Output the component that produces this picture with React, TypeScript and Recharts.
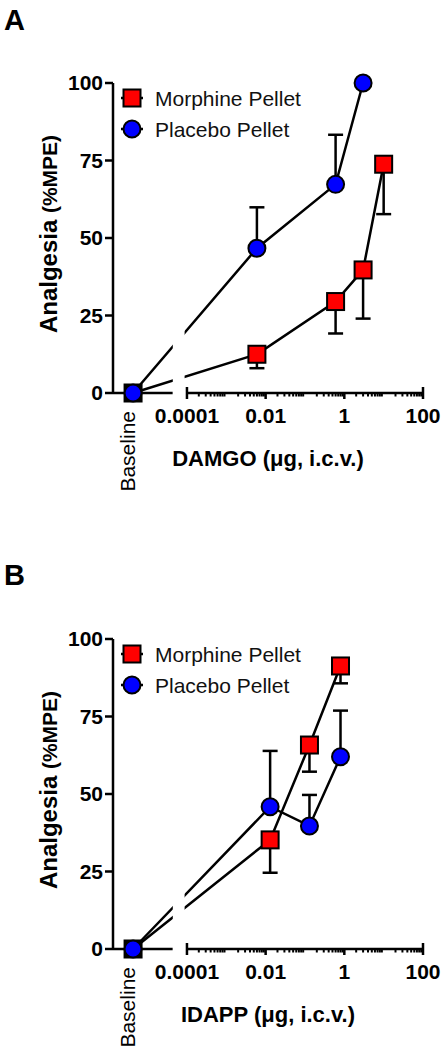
import React from 'react';
import {
  LineChart,
  Line,
  XAxis,
  YAxis,
  ErrorBar,
  ReferenceLine,
  ReferenceArea,
  Legend,
} from 'recharts';

const FONT = '"Liberation Sans", Arial, Helvetica, sans-serif';

// x axis is log10(dose); baseline sits on its own short segment left of the break
const X_MIN = -5.88;
const X_MAX = 2;
const BASELINE_POS = -5.37;
const BREAK_FROM = -4.36;
const BREAK_TO = -4.06;

const yTicks = [0, 25, 50, 75, 100];
const majorDoses = [0.0001, 0.01, 1, 100];
const majorLabels = ['0.0001', '0.01', '1', '100'];
const legendNames = ['Morphine Pellet', 'Placebo Pellet'];

// Panel A - DAMGO
const damgoMorphineDose = [0.006, 0.6, 3, 10];
const damgoMorphineMPE = [12.5, 29.5, 39.7, 73.8];
const damgoMorphineSEM = [4.5, 10.3, 15.7, 16.1];
const damgoPlaceboDose = [0.006, 0.6, 3];
const damgoPlaceboMPE = [46.7, 67.3, 100];
const damgoPlaceboSEM = [13.2, 16, 0];

// Panel B - IDAPP
const idappMorphineDose = [0.013, 0.13, 0.8];
const idappMorphineMPE = [35.2, 65.8, 91.3];
const idappMorphineSEM = [10.6, 8.6, 5.6];
const idappPlaceboDose = [0.013, 0.13, 0.8];
const idappPlaceboMPE = [45.9, 39.7, 62];
const idappPlaceboSEM = [18, 10, 14.9];

type Row = { x: number; y: number; err: number[]; base?: boolean };

const buildRows = (doses: number[], mpe: number[], sem: number[], dir: 'up' | 'down'): Row[] => [
  { x: BASELINE_POS, y: 0, err: [0, 0], base: true },
  ...doses.map((d, i) => ({
    x: Math.log10(d),
    y: mpe[i],
    err: dir === 'up' ? [0, sem[i]] : [sem[i], 0],
  })),
];

const majorPos = majorDoses.map((d) => Math.log10(d));
const minorPos: number[] = [];
for (let e = -4; e < 2; e++) {
  for (let k = 2; k <= 9; k++) minorPos.push(e + Math.log10(k));
}
const xTickValues = [BASELINE_POS, ...majorPos, ...minorPos];

const XTick = (props: any) => {
  const { x, y, payload } = props;
  const v = payload.value;
  if (Math.abs(v - BASELINE_POS) < 1e-6) {
    return (
      <text
        x={x}
        y={y + 18}
        dy={2}
        transform={`rotate(-90 ${x} ${y + 18})`}
        textAnchor="end"
        fontSize={21}
        fontFamily={FONT}
        fill="#000"
      >
        Baseline
      </text>
    );
  }
  const mi = majorPos.findIndex((m) => Math.abs(m - v) < 1e-6);
  if (mi >= 0) {
    const isEnd = mi === 0 || mi === majorPos.length - 1;
    return (
      <g>
        <line x1={x} x2={x} y1={isEnd ? y - 6 : y} y2={y + 6} stroke="#000" strokeWidth={2.5} />
        <text x={x} y={y + 30} textAnchor="middle" fontSize={21} fontWeight={700} fontFamily={FONT} fill="#000">
          {majorLabels[mi]}
        </text>
      </g>
    );
  }
  return <line x1={x} x2={x} y1={y} y2={y + 3.5} stroke="#000" strokeWidth={2} />;
};

const YTitle = (props: any) => {
  const vb = props.viewBox || { x: 0, y: 83, width: 113, height: 310 };
  const cx = vb.x + 57;
  const cy = vb.y + vb.height / 2 - 4;
  return (
    <text x={cx} y={cy} transform={`rotate(-90 ${cx} ${cy})`} textAnchor="middle" fontFamily={FONT} fontWeight={700} fill="#000">
      <tspan fontSize={24}>Analgesia </tspan>
      <tspan fontSize={21}>(%MPE)</tspan>
    </text>
  );
};

const XTitle = (props: any) => {
  const vb = props.viewBox || { x: 113, y: 393, width: 310, height: 100 };
  return (
    <text x={vb.x + vb.width / 2} y={vb.y + 73} textAnchor="middle" fontSize={22} fontWeight={700} fontFamily={FONT} fill="#000">
      {props.text}
    </text>
  );
};

const SquareDot = (props: any) => {
  const { cx, cy, payload } = props;
  if (cx == null || cy == null) return null;
  const s = 17;
  return (
    <rect
      x={cx - s / 2}
      y={cy - s / 2}
      width={s}
      height={s}
      fill={payload && payload.base ? '#000' : '#ff0000'}
      stroke="#000"
      strokeWidth={2}
    />
  );
};

const LegendContent = () => (
  <svg width={210} height={64} style={{ display: 'block', overflow: 'visible' }}>
    {legendNames.map((name, i) => {
      const cy = 16 + i * 31;
      return (
        <g key={name}>
          <line x1={3} x2={25} y1={cy} y2={cy} stroke="#000" strokeWidth={2.5} />
          {i === 0 ? (
            <rect x={14 - 8.5} y={cy - 8.5} width={17} height={17} fill="#ff0000" stroke="#000" strokeWidth={2} />
          ) : (
            <circle cx={14} cy={cy} r={8.5} fill="#0000ff" stroke="#000" strokeWidth={2} />
          )}
          <text x={37} y={cy + 7.5} fontSize={21} fontFamily={FONT} fill="#111">
            {name}
          </text>
        </g>
      );
    })}
  </svg>
);

const Panel = ({ morphine, placebo, xLabel }: { morphine: Row[]; placebo: Row[]; xLabel: string }) => (
  <LineChart width={447} height={494} margin={{ top: 83, right: 24, bottom: 1, left: 0 }}>
    <XAxis
      type="number"
      dataKey="x"
      domain={[X_MIN, X_MAX]}
      ticks={xTickValues}
      interval={0}
      axisLine={false}
      tickLine={false}
      tickSize={0}
      tickMargin={0}
      height={100}
      tick={<XTick />}
      label={<XTitle text={xLabel} />}
    />
    <YAxis
      type="number"
      domain={[0, 100]}
      ticks={yTicks}
      width={113}
      tickSize={8}
      tickMargin={2}
      axisLine={{ stroke: '#000', strokeWidth: 2.5 }}
      tickLine={{ stroke: '#000', strokeWidth: 2.5 }}
      tick={{ fill: '#000', fontSize: 21, fontWeight: 700, fontFamily: FONT }}
      label={<YTitle />}
    />
    <ReferenceLine
      segment={[{ x: X_MIN, y: 0 }, { x: BREAK_FROM, y: 0 }]}
      stroke="#000"
      strokeWidth={2.5}
      ifOverflow="visible"
    />
    <ReferenceLine
      segment={[{ x: -4, y: 0 }, { x: X_MAX, y: 0 }]}
      stroke="#000"
      strokeWidth={2.5}
      ifOverflow="visible"
    />
    <Line
      data={morphine}
      dataKey="y"
      name={legendNames[0]}
      stroke="#000"
      strokeWidth={2.5}
      dot={<SquareDot />}
      isAnimationActive={false}
    >
      <ErrorBar dataKey="err" direction="y" width={7.5} stroke="#000" strokeWidth={2.5} />
    </Line>
    <Line
      data={placebo}
      dataKey="y"
      name={legendNames[1]}
      stroke="#000"
      strokeWidth={2.5}
      dot={{ r: 8.5, fill: '#0000ff', stroke: '#000', strokeWidth: 2 }}
      isAnimationActive={false}
    >
      <ErrorBar dataKey="err" direction="y" width={7.5} stroke="#000" strokeWidth={2.5} />
    </Line>
    <ReferenceArea
      x1={BREAK_FROM}
      x2={BREAK_TO}
      y1={-3}
      y2={100}
      fill="#fff"
      fillOpacity={1}
      stroke="none"
      ifOverflow="visible"
      zIndex={1500}
    />
    <Legend
      layout="vertical"
      align="center"
      verticalAlign="middle"
      wrapperStyle={{ left: 118, top: 82, width: 210, height: 64 }}
      content={<LegendContent />}
    />
  </LineChart>
);

const damgoMorphine = buildRows(damgoMorphineDose, damgoMorphineMPE, damgoMorphineSEM, 'down');
const damgoPlacebo = buildRows(damgoPlaceboDose, damgoPlaceboMPE, damgoPlaceboSEM, 'up');
const idappMorphine = buildRows(idappMorphineDose, idappMorphineMPE, idappMorphineSEM, 'down');
const idappPlacebo = buildRows(idappPlaceboDose, idappPlaceboMPE, idappPlaceboSEM, 'up');

const letterStyle: React.CSSProperties = {
  position: 'absolute',
  left: 4,
  fontSize: 29,
  fontWeight: 700,
  lineHeight: 1,
  fontFamily: FONT,
};

export default function App() {
  return (
    <div style={{ position: 'absolute', left: 0, top: 0, width: 447, height: 1050, background: '#fff', fontFamily: FONT }}>
      <div style={{ ...letterStyle, top: 6 }}>A</div>
      <div style={{ position: 'absolute', left: 0, top: 0 }}>
        <Panel morphine={damgoMorphine} placebo={damgoPlacebo} xLabel="DAMGO (μg, i.c.v.)" />
      </div>
      <div style={{ ...letterStyle, top: 561 }}>B</div>
      <div style={{ position: 'absolute', left: 0, top: 556 }}>
        <Panel morphine={idappMorphine} placebo={idappPlacebo} xLabel="IDAPP (μg, i.c.v.)" />
      </div>
    </div>
  );
}
